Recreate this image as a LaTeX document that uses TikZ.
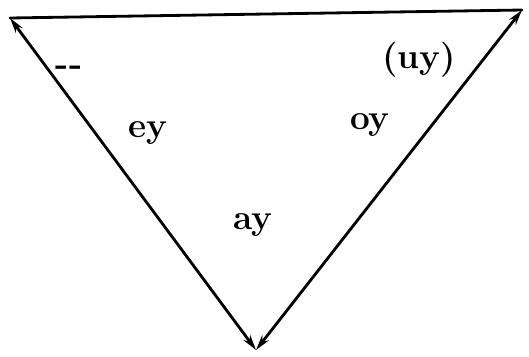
\documentclass[tikz,border=0pt]{standalone}
\usepackage{tikz}
\usetikzlibrary{arrows.meta}

\begin{document}
\begin{tikzpicture}[
  x=0.025cm, y=-0.025cm,
  vowel/.style={font=\fontsize{25}{28}\selectfont\bfseries, inner sep=0pt, anchor=base},
  edge/.style={line width=2pt, line cap=round},
  >={Stealth[length=11pt, width=6pt]}
]
\useasboundingbox (0,0) rectangle (529,357);

%% --- corners of the triangle ---
\coordinate (tl) at (10,18);
\coordinate (tr) at (522,10);
\coordinate (bot) at (256,350);

%% --- sides ---
\draw[edge] (tl) -- (tr);
\draw[edge, <->] (tl) -- (bot);
\draw[edge, <->] (bot) -- (tr);

%% --- labels ---
\node[vowel] (ey) at (148,137) {ey};
\node[vowel] (oy) at (370,129) {oy};
\node[vowel] (ay) at (253,229) {ay};
\node[vowel] (uy) at (419,68) {(uy)};
\node[vowel] (dash) at (69,75) {-{}-};
\end{tikzpicture}
\end{document}
